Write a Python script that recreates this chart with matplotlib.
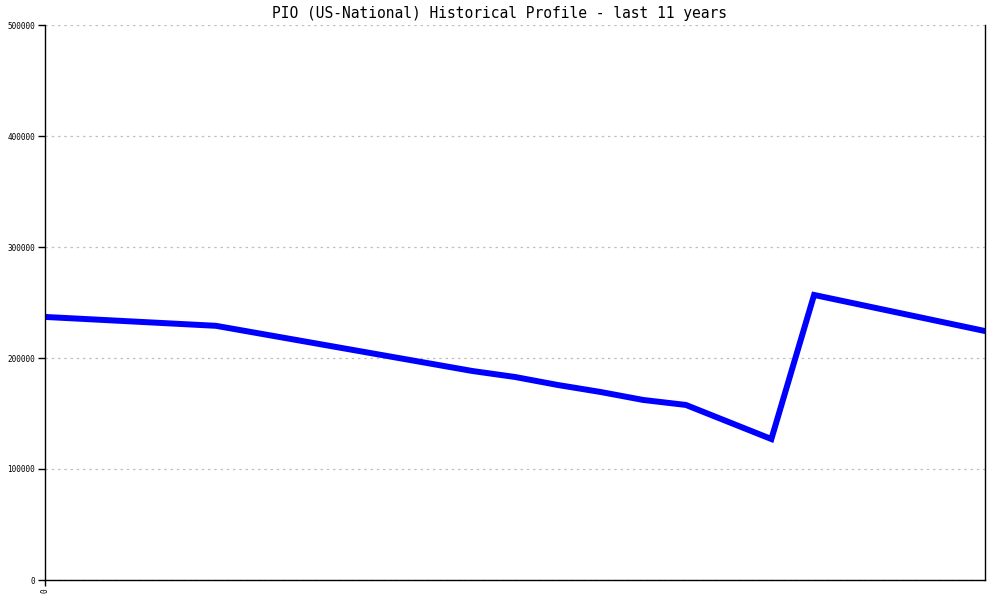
import matplotlib
matplotlib.use("Agg")
import matplotlib.pyplot as plt

# half-year steps over the last 11 years
period = [0, 4, 10, 11, 12, 13, 14, 15, 17, 18, 22]
value = [237000, 229000, 188300, 182900, 175700, 169400, 162200, 157700, 127000, 256800, 224300]
yticks = [0, 100000, 200000, 300000, 400000, 500000]

plt.rcParams['font.family'] = ['DejaVu Sans Mono']

fig = plt.figure(figsize=(10, 6), dpi=100)
ax = fig.add_axes([0.045, 1 - 580 / 600, 0.94, 555 / 600])

ax.plot(period, value, color='#0000ff', lw=4.3, solid_joinstyle='miter')

ax.set_xlim(0, 22)
ax.set_ylim(0, 500000)
ax.set_yticks(yticks)
ax.set_yticklabels([str(v) for v in yticks], fontsize=5.5)
ax.set_xticks([0])
ax.set_xticklabels(['0'], fontsize=5.5, rotation=90)
ax.tick_params(axis='y', length=5, width=1, pad=2)
ax.tick_params(axis='x', length=4, width=1, pad=2)
ax.grid(axis='y', color='#c0c0c0', linestyle=(0, (2, 3)), lw=0.9)

ax.spines['top'].set_visible(False)
for s in ['left', 'bottom', 'right']:
    ax.spines[s].set_linewidth(1)
    ax.spines[s].set_color('black')

fig.suptitle('PIO (US-National) Historical Profile - last 11 years',
             y=0.99, fontsize=10.5, va='top')

fig.savefig('out.png')
